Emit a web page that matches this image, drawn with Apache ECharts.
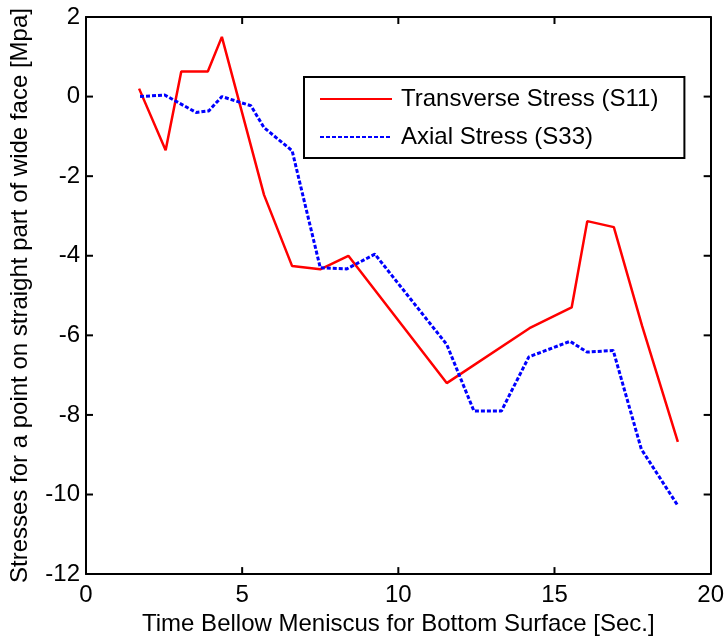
<!DOCTYPE html>
<html>
<head>
<meta charset="utf-8">
<script src="https://cdn.jsdelivr.net/npm/echarts@6/dist/echarts.min.js"></script>
<style>
  html, body { margin: 0; padding: 0; background: #fff; }
  #chart { width: 727px; height: 641px; }
</style>
</head>
<body>
<div id="chart"></div>
<script>
// transverse stress S11
const s11Time = [1.7, 2.55, 3.05, 3.9, 4.35, 5.7, 6.6, 7.5, 8.4, 11.55, 14.2, 15.55, 16.05, 16.9, 17.8, 18.95];
const s11Val = [0.2, -1.35, 0.63, 0.63, 1.5, -2.47, -4.26, -4.34, -4.0, -7.2, -5.82, -5.3, -3.13, -3.28, -5.75, -8.68];
// axial stress S33
const s33Time = [1.73, 2.52, 3.53, 3.93, 4.35, 5.28, 5.7, 6.6, 7.5, 8.35, 9.25, 11.55, 12.42, 13.3, 14.18, 15.5, 16.04, 16.88, 17.78, 18.95];
const s33Val = [0, 0.04, -0.4, -0.36, 0, -0.23, -0.78, -1.36, -4.3, -4.33, -3.96, -6.23, -7.9, -7.9, -6.54, -6.15, -6.42, -6.38, -8.86, -10.28];

const xRange = [0, 20, 5];
const yRange = [-12, 2, 2];
// inner ticks (matlab style, on all four sides)
const xTicks = [5, 10, 15];
const yTicks = [0, -2, -4, -6, -8, -10];

const pair = (xs, ys) => xs.map((x, i) => [x, ys[i]]);

const font = "Liberation Sans, Arial, sans-serif";
const fs = 24;
const tickLen = 7;

function axisLine() {
    return { show: true, onZero: false, lineStyle: { color: "#000", width: 2 } };
}
const noLabel = { show: false };
const noSplit = { show: false };
const noTick = { show: false };

const chart = echarts.init(document.getElementById("chart"));
chart.setOption({
    animation: false,
    grid: { left: 84, right: 14, top: 17, bottom: 64 },
    legend: {
        data: ["Transverse Stress (S11)", "Axial Stress (S33)"],
        orient: "vertical",
        left: 304,
        top: 77,
        padding: [10, 26, 9, 15],
        itemWidth: 72,
        itemHeight: 14,
        itemGap: 14,
        borderColor: "#000",
        borderWidth: 2,
        backgroundColor: "#fff",
        itemStyle: { opacity: 0 },
        textStyle: { fontFamily: font, fontSize: fs, color: "#000", padding: [0, 0, 0, 4] },
    },
    xAxis: [
        {
            type: "value",
            position: "bottom",
            min: xRange[0], max: xRange[1], interval: xRange[2],
            name: "Time Bellow Meniscus for Bottom Surface [Sec.]",
            nameLocation: "middle",
            nameGap: 30,
            nameTextStyle: { fontFamily: font, fontSize: fs, color: "#000" },
            axisLine: axisLine(),
            axisTick: noTick,
            axisLabel: { fontFamily: font, fontSize: fs, color: "#000", margin: 9 },
            splitLine: noSplit,
        },
        {
            type: "value", position: "top",
            min: xRange[0], max: xRange[1], interval: xRange[2],
            axisLine: axisLine(), axisTick: noTick,
            axisLabel: noLabel, splitLine: noSplit,
        },
    ],
    yAxis: [
        {
            type: "value",
            position: "left",
            min: yRange[0], max: yRange[1], interval: yRange[2],
            name: "Stresses for a point on straight part of wide face [Mpa]",
            nameLocation: "middle",
            nameGap: 54,
            nameTextStyle: { fontFamily: font, fontSize: fs, color: "#000" },
            axisLine: axisLine(),
            axisTick: noTick,
            axisLabel: { fontFamily: font, fontSize: fs, color: "#000", margin: 6 },
            splitLine: noSplit,
        },
        {
            type: "value", position: "right",
            min: yRange[0], max: yRange[1], interval: yRange[2],
            axisLine: axisLine(), axisTick: noTick,
            axisLabel: noLabel, splitLine: noSplit,
        },
    ],
    series: [
        {
            name: "Transverse Stress (S11)",
            type: "line",
            data: pair(s11Time, s11Val),
            symbol: "none",
            lineStyle: { color: "#ff0000", width: 2.5 },
            itemStyle: { color: "#ff0000" },
        },
        {
            name: "Axial Stress (S33)",
            type: "line",
            data: pair(s33Time, s33Val),
            symbol: "none",
            lineStyle: { color: "#0000ff", width: 3, type: [4, 2] },
            itemStyle: { color: "#0000ff" },
        },
    ],
});

// inward ticks, placed through the chart's own scales
const toPx = (x, y) => chart.convertToPixel({ xAxisIndex: 0, yAxisIndex: 0 }, [x, y]);
const tickStyle = { stroke: "#000", lineWidth: 2 };
const ticks = [];
xTicks.forEach(x => {
    const b = toPx(x, yRange[0]);
    const t = toPx(x, yRange[1]);
    ticks.push({ type: "line", z: 100, shape: { x1: b[0], y1: b[1], x2: b[0], y2: b[1] - tickLen }, style: tickStyle });
    ticks.push({ type: "line", z: 100, shape: { x1: t[0], y1: t[1], x2: t[0], y2: t[1] + tickLen }, style: tickStyle });
});
yTicks.forEach(y => {
    const l = toPx(xRange[0], y);
    const r = toPx(xRange[1], y);
    ticks.push({ type: "line", z: 100, shape: { x1: l[0], y1: l[1], x2: l[0] + tickLen, y2: l[1] }, style: tickStyle });
    ticks.push({ type: "line", z: 100, shape: { x1: r[0], y1: r[1], x2: r[0] - tickLen, y2: r[1] }, style: tickStyle });
});
chart.setOption({ graphic: ticks });
</script>
</body>
</html>
